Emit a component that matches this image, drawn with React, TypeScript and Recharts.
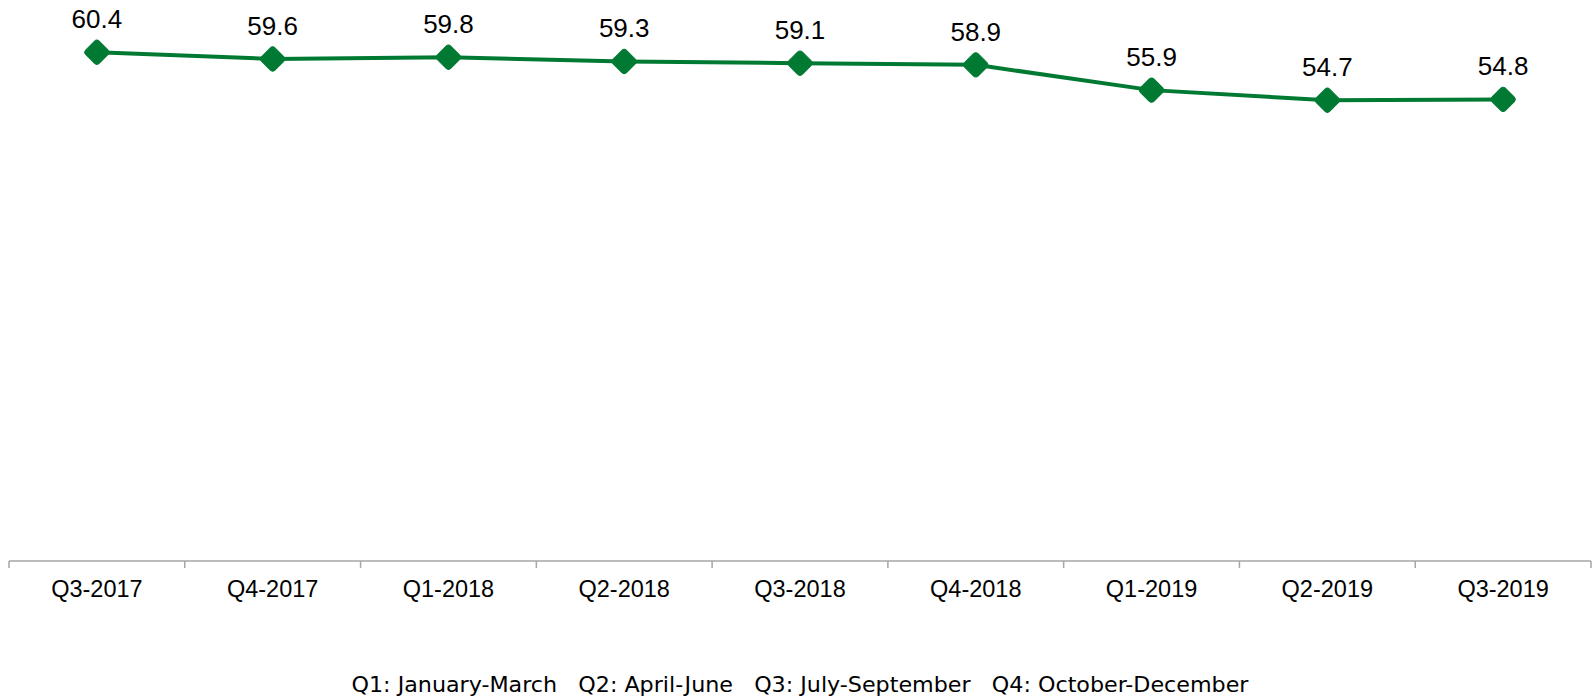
import React from 'react';
import { LineChart, Line, XAxis, YAxis, LabelList } from 'recharts';

const categories = ['Q3-2017', 'Q4-2017', 'Q1-2018', 'Q2-2018', 'Q3-2018', 'Q4-2018', 'Q1-2019', 'Q2-2019', 'Q3-2019'];
const rate = [60.4, 59.6, 59.8, 59.3, 59.1, 58.9, 55.9, 54.7, 54.8];
const footnote = 'Q1: January-March   Q2: April-June   Q3: July-September   Q4: October-December';

const data = categories.map((c, i) => ({ quarter: c, rate: rate[i] }));

const GREEN = '#007A33';

const Diamond = (props: any) => {
  const { cx, cy } = props;
  if (cx == null || cy == null) return null;
  const s = 19;
  return (
    <rect
      x={cx - s / 2}
      y={cy - s / 2}
      width={s}
      height={s}
      rx={3.5}
      ry={3.5}
      fill={GREEN}
      stroke={GREEN}
      strokeWidth={1}
      transform={`rotate(45 ${cx} ${cy})`}
    />
  );
};

const Tick = (props: any) => {
  const { x, y, payload, index, visibleTicksCount } = props;
  const half = payload.offset || 0;
  const axisY = y - 7;
  return (
    <g>
      <line x1={x - half} x2={x - half} y1={axisY} y2={y} stroke="#a6a6a6" strokeWidth={1.5} />
      {index === visibleTicksCount - 1 && (
        <line x1={x + half} x2={x + half} y1={axisY} y2={y} stroke="#a6a6a6" strokeWidth={1.5} />
      )}
      <text x={x} y={y + 29} textAnchor="middle" fontFamily="'Liberation Sans', Arial, sans-serif" fontSize={23.5} fill="#000">
        {payload.value}
      </text>
    </g>
  );
};

const ValueLabel = (props: any) => {
  const { x, y, value } = props;
  return (
    <text x={x} y={y - 24} textAnchor="middle" fontFamily="'Liberation Sans', Arial, sans-serif" fontSize={26} fill="#000">
      {value}
    </text>
  );
};

export default function App() {
  return (
    <div style={{ position: 'absolute', left: 0, top: 0, width: 1592, height: 699, background: '#fff' }}>
      <LineChart width={1592} height={699} data={data} margin={{ top: 0, right: 1, bottom: 108, left: 9 }}>
        <XAxis
          dataKey="quarter"
          scale="band"
          height={30}
          tickLine={false}
          tickSize={7}
          tickMargin={0}
          axisLine={{ stroke: '#a6a6a6', strokeWidth: 1.5 }}
          tick={<Tick />}
          interval={0}
        />
        <YAxis hide domain={[0, 66.6]} type="number" />
        <Line
          dataKey="rate"
          stroke={GREEN}
          strokeWidth={4}
          dot={<Diamond />}
          activeDot={false}
          isAnimationActive={false}
        >
          <LabelList dataKey="rate" content={<ValueLabel />} />
        </Line>
      </LineChart>
      <svg width={1592} height={699} style={{ position: 'absolute', left: 0, top: 0, pointerEvents: 'none' }}>
        <text
          x={800}
          y={692}
          textAnchor="middle"
          fontFamily="'Liberation Sans Narrow', 'DejaVu Sans Condensed', 'Liberation Sans', sans-serif"
          fontSize={22}
          fill="#000"
          textLength={897}
          lengthAdjust="spacingAndGlyphs"
          style={{ whiteSpace: 'pre' }}
        >
          {footnote}
        </text>
      </svg>
    </div>
  );
}
